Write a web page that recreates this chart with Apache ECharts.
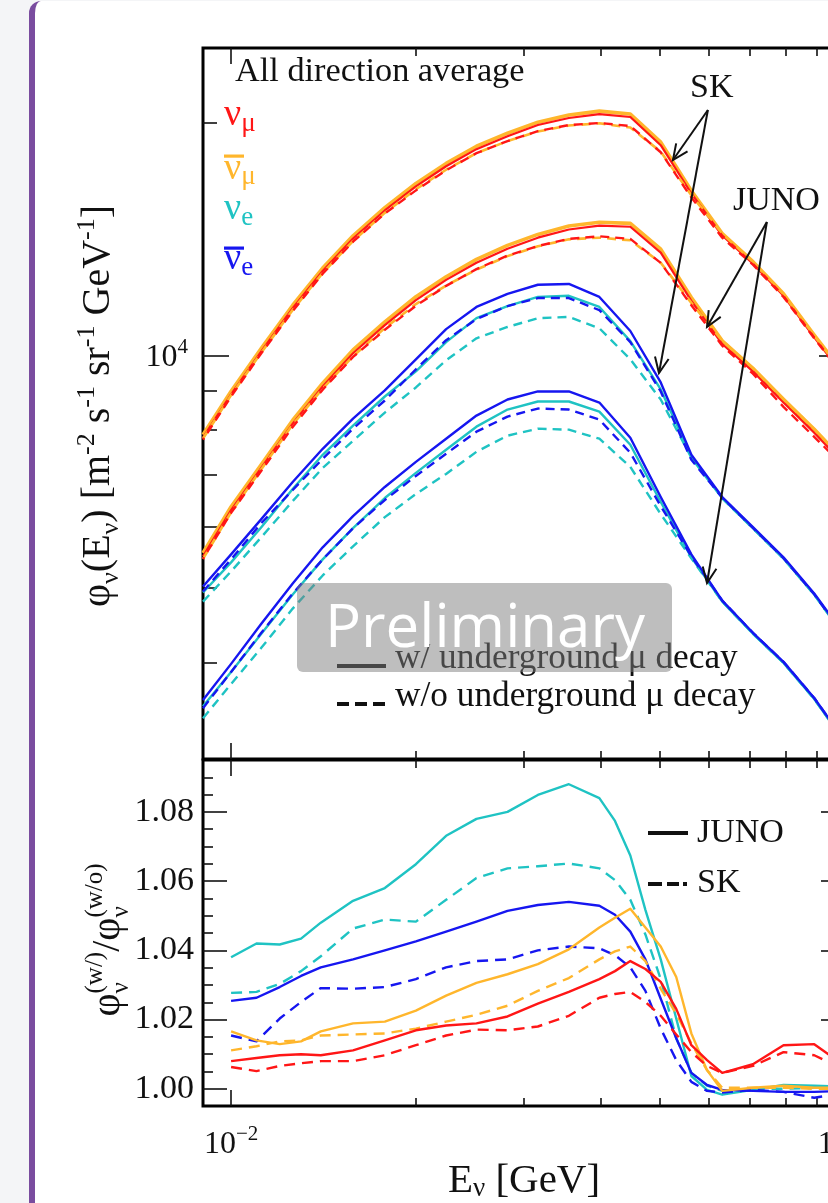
<!DOCTYPE html>
<html>
<head>
<meta charset="utf-8">
<script src="https://cdn.jsdelivr.net/npm/echarts@6/dist/echarts.min.js"></script>
<style>
  html, body { margin: 0; padding: 0; width: 828px; height: 1203px; overflow: hidden; background: #f4f5f7; }
  #card { position: absolute; left: 29px; top: 1px; width: 900px; height: 1300px; background: #fff;
          border-left: 6px solid #7a4c9f; border-top-left-radius: 12px; }
  #chart { position: absolute; left: 0; top: 0; width: 900px; height: 1203px; }
</style>
</head>
<body>
<div id="card"></div>
<div id="chart"></div>
<script>
const SERIF = '"Liberation Serif", "Times New Roman", serif';
const SANS = '"Open Sans", "Noto Sans", sans-serif';

// ---------- flux panel: energy grid [GeV] and fluxes [m^-2 s^-1 sr^-1 GeV^-1] ----------
const fluxEnergy = [0.009, 0.01, 0.0112, 0.0126, 0.0141, 0.0158, 0.0178, 0.02, 0.0224, 0.0251, 0.0282,
                    0.0316, 0.0355, 0.0398, 0.0447, 0.0501, 0.0562, 0.0631, 0.0708, 0.0794, 0.0891, 0.1];

// SK, muon flavour
const skNumuWith       = [7821, 8900, 10120, 11510, 12860, 14160, 15400, 16550, 17570, 18490, 19220, 19870, 20290, 20530, 20350, 18710, 16200, 14290, 13140, 11940, 10550, 9362];
const skNumubarWith    = [7890, 8980, 10210, 11610, 12970, 14280, 15530, 16690, 17720, 18650, 19390, 20040, 20470, 20710, 20530, 18880, 16330, 14380, 13220, 12010, 10620, 9430];
const skNumuWithout    = [7774, 8843, 10060, 11410, 12750, 14030, 15260, 16350, 17360, 18270, 18940, 19510, 19870, 19990, 19810, 18320, 16010, 14200, 13100, 11900, 10520, 9334];
const skNumubarWithout = [7800, 8880, 10080, 11450, 12780, 14060, 15290, 16410, 17390, 18270, 18940, 19490, 19840, 19970, 19720, 18350, 16120, 14370, 13210, 12000, 10600, 9410];
// JUNO, muon flavour
const junoNumuWith       = [5490, 6302, 7148, 8156, 9113, 10060, 10940, 11790, 12520, 13180, 13740, 14200, 14550, 14720, 14670, 13580, 11760, 10340, 9531, 8686, 7939, 7212];
const junoNumubarWith    = [5545, 6365, 7220, 8240, 9200, 10160, 11050, 11910, 12640, 13310, 13880, 14340, 14700, 14870, 14820, 13720, 11880, 10440, 9620, 8770, 8020, 7280];
const junoNumuWithout    = [5450, 6250, 7085, 8075, 9025, 9950, 10790, 11590, 12300, 12930, 13460, 13850, 14150, 14260, 14150, 13170, 11610, 10290, 9465, 8575, 7840, 7160];
const junoNumubarWithout = [5450, 6260, 7120, 8135, 9055, 9970, 10845, 11650, 12310, 12910, 13440, 13840, 14130, 14200, 14090, 13180, 11690, 10440, 9620, 8770, 8020, 7280];
// SK, electron flavour
const skNuebarWith    = [5018, 5523, 6134, 6853, 7566, 8279, 9004, 9881, 10810, 11550, 12010, 12340, 12370, 11900, 10750, 9222, 7432, 6552, 5989, 5474, 4914, 4332];
const skNueWith       = [4929, 5392, 5989, 6712, 7432, 8107, 8843, 9532, 10400, 11170, 11580, 11900, 11940, 11550, 10430, 9031, 7388, 6533, 5971, 5457, 4899, 4319];
const skNuebarWithout = [4944, 5441, 6061, 6692, 7343, 8034, 8738, 9589, 10460, 11140, 11580, 11860, 11860, 11440, 10400, 8977, 7321, 6540, 5975, 5460, 4902, 4322];
const skNueWithout    = [4797, 5249, 5812, 6474, 7148, 7750, 8429, 9085, 9851, 10520, 10880, 11170, 11210, 10840, 9881, 8764, 7365, 6528, 5965, 5452, 4895, 4316];
// JUNO, electron flavour
const junoNuebarWith    = [3576, 3984, 4491, 5063, 5640, 6190, 6752, 7277, 7797, 8354, 8764, 8977, 8977, 8686, 7821, 6552, 5523, 4812, 4371, 4008, 3598, 3162];
const junoNueWith       = [3512, 3889, 4358, 4899, 5441, 5971, 6533, 7042, 7544, 8082, 8505, 8712, 8712, 8454, 7658, 6455, 5474, 4797, 4358, 3996, 3587, 3153];
const junoNuebarWithout = [3491, 3889, 4371, 4914, 5441, 5971, 6494, 6978, 7454, 7962, 8329, 8531, 8505, 8254, 7477, 6378, 5490, 4812, 4371, 4008, 3598, 3162];
const junoNueWithout    = [3388, 3752, 4179, 4698, 5186, 5657, 6171, 6612, 7020, 7499, 7868, 8034, 8010, 7797, 7169, 6227, 5457, 4797, 4358, 3996, 3587, 3153];

// ---------- ratio panel: flux with / without underground muon decay ----------
const ratioEnergy = [0.01, 0.011, 0.012, 0.013, 0.014, 0.0158, 0.0178, 0.02, 0.0224, 0.0251, 0.0282, 0.0316, 0.0355,
                     0.0398, 0.0422, 0.0447, 0.0473, 0.0501, 0.0531, 0.0562, 0.0596, 0.0631, 0.0708, 0.0794, 0.0891, 0.1];
const ratioJunoNue    = [1.038, 1.042, 1.0417, 1.0434, 1.048, 1.0543, 1.058, 1.0649, 1.0731, 1.078, 1.080, 1.0849, 1.088, 1.084, 1.0774, 1.0674, 1.0517, 1.0374, 1.0203, 1.0037, 0.9997, 0.9983, 0.9997, 1.0011, 1.0009, 1.0006];
const ratioSkNue      = [1.0277, 1.028, 1.0303, 1.034, 1.0383, 1.0463, 1.0489, 1.0483, 1.0546, 1.0609, 1.0637, 1.0643, 1.0651, 1.0637, 1.0603, 1.0546, 1.0446, 1.0317, 1.0146, 1.0046, 1.0009, 0.9994, 1.0, 1.0, 1.0003, 1.0003];
const ratioJunoNuebar = [1.0254, 1.0263, 1.0294, 1.0326, 1.0351, 1.0374, 1.04, 1.0426, 1.0454, 1.0483, 1.0514, 1.0531, 1.054, 1.0529, 1.0503, 1.0454, 1.0374, 1.026, 1.0146, 1.0046, 1.0011, 0.9997, 0.9994, 0.9991, 0.9991, 0.9994];
const ratioSkNuebar   = [1.0154, 1.0137, 1.0203, 1.0251, 1.0291, 1.0289, 1.0294, 1.0317, 1.0351, 1.0369, 1.0374, 1.04, 1.0411, 1.0406, 1.0386, 1.0351, 1.0283, 1.0174, 1.0083, 1.002, 0.9994, 0.9989, 0.9997, 0.9991, 0.9974, 0.9989];
const ratioJunoNumubar = [1.0166, 1.014, 1.0129, 1.0137, 1.0166, 1.0189, 1.0194, 1.0226, 1.0269, 1.0306, 1.0331, 1.036, 1.0403, 1.0466, 1.0494, 1.052, 1.0466, 1.0411, 1.0323, 1.016, 1.0054, 0.9994, 1.0003, 1.0009, 1.0003, 1.0003];
const ratioSkNumubar   = [1.0111, 1.0123, 1.0137, 1.014, 1.0154, 1.0157, 1.016, 1.0174, 1.0194, 1.0214, 1.024, 1.0283, 1.032, 1.0374, 1.0397, 1.0411, 1.0369, 1.0289, 1.0217, 1.0131, 1.0054, 1.0003, 1.0003, 1.0003, 1.0, 1.0];
const ratioJunoNumu    = [1.008, 1.0089, 1.0097, 1.01, 1.0097, 1.0111, 1.014, 1.0169, 1.0183, 1.0189, 1.0209, 1.0246, 1.028, 1.0317, 1.034, 1.0369, 1.0346, 1.0309, 1.0231, 1.0126, 1.0083, 1.0046, 1.0071, 1.0126, 1.0129, 1.0066];
const ratioSkNumu      = [1.0063, 1.0051, 1.0066, 1.0074, 1.008, 1.008, 1.0097, 1.0126, 1.0154, 1.0171, 1.0169, 1.018, 1.0211, 1.0263, 1.0274, 1.028, 1.0251, 1.0211, 1.0157, 1.0106, 1.0066, 1.0046, 1.0066, 1.0106, 1.0097, 1.0054];

// ---------- ticks ----------
const energyMajorTicks = [0.01, 0.1];
const energyMinorTicks = [0.02, 0.03, 0.04, 0.05, 0.06, 0.07, 0.08, 0.09];
const fluxMajorTicks = [10000];
const fluxMinorTicks = [4000, 5000, 6000, 7000, 8000, 9000, 20000];
const ratioMajorTicks = [1.00, 1.02, 1.04, 1.06, 1.08];
const ratioMinorTicks = [1.005, 1.01, 1.015, 1.025, 1.03, 1.035, 1.045, 1.05, 1.055, 1.065, 1.07, 1.075, 1.085, 1.09];

// annotation arrows, anchored in (energy, flux)
const skArrowFrom = [0.0598, 20780];
const skArrowTips = [[0.05245, 17900], [0.04977, 9485]];
const junoArrowFrom = [0.0746, 14880];
const junoArrowTips = [[0.0596, 10880], [0.0596, 5071]];

const RED = '#ff1616', ORANGE = '#ffb62c', CYAN = '#1fc3c3', BLUE = '#1616f0';

const pairs = (xs, ys) => xs.map((x, i) => [x, ys[i]]);

function line(name, xs, ys, color, dashed, panel, opts) {
  opts = opts || {};
  return {
    name, type: 'line', silent: true, showSymbol: false, symbol: 'none', smooth: false,
    xAxisIndex: panel === 'flux' ? 0 : 4, yAxisIndex: panel === 'flux' ? 0 : 4,
    data: pairs(xs, ys), z: opts.z || 3,
    lineStyle: {
      color, width: opts.width || 2.4,
      type: dashed ? (panel === 'flux' ? [9, 6] : [11, 7]) : 'solid',
      dashOffset: opts.dashOffset || 0, cap: 'butt', join: 'round'
    },
    itemStyle: { color }
  };
}

const series = [
  // SK muon flavour
  line('SK anti-numu w/', fluxEnergy, skNumubarWith, ORANGE, false, 'flux', { width: 3.6 }),
  line('SK numu w/', fluxEnergy, skNumuWith, RED, false, 'flux', { width: 2.2 }),
  line('SK anti-numu w/o', fluxEnergy, skNumubarWithout, ORANGE, true, 'flux', { width: 2.6 }),
  line('SK numu w/o', fluxEnergy, skNumuWithout, RED, true, 'flux', { width: 2.4, dashOffset: 7 }),
  // JUNO muon flavour
  line('JUNO anti-numu w/', fluxEnergy, junoNumubarWith, ORANGE, false, 'flux', { width: 3.6 }),
  line('JUNO numu w/', fluxEnergy, junoNumuWith, RED, false, 'flux', { width: 2.2 }),
  line('JUNO anti-numu w/o', fluxEnergy, junoNumubarWithout, ORANGE, true, 'flux', { width: 2.6 }),
  line('JUNO numu w/o', fluxEnergy, junoNumuWithout, RED, true, 'flux', { width: 2.4, dashOffset: 7 }),
  // SK electron flavour
  line('SK nue w/o', fluxEnergy, skNueWithout, CYAN, true, 'flux'),
  line('SK nue w/', fluxEnergy, skNueWith, CYAN, false, 'flux'),
  line('SK anti-nue w/', fluxEnergy, skNuebarWith, BLUE, false, 'flux'),
  line('SK anti-nue w/o', fluxEnergy, skNuebarWithout, BLUE, true, 'flux'),
  // JUNO electron flavour
  line('JUNO nue w/o', fluxEnergy, junoNueWithout, CYAN, true, 'flux'),
  line('JUNO nue w/', fluxEnergy, junoNueWith, CYAN, false, 'flux'),
  line('JUNO anti-nue w/', fluxEnergy, junoNuebarWith, BLUE, false, 'flux'),
  line('JUNO anti-nue w/o', fluxEnergy, junoNuebarWithout, BLUE, true, 'flux'),
  // ratios
  line('JUNO nue ratio', ratioEnergy, ratioJunoNue, CYAN, false, 'ratio'),
  line('SK nue ratio', ratioEnergy, ratioSkNue, CYAN, true, 'ratio'),
  line('JUNO anti-nue ratio', ratioEnergy, ratioJunoNuebar, BLUE, false, 'ratio'),
  line('SK anti-nue ratio', ratioEnergy, ratioSkNuebar, BLUE, true, 'ratio'),
  line('JUNO anti-numu ratio', ratioEnergy, ratioJunoNumubar, ORANGE, false, 'ratio'),
  line('SK anti-numu ratio', ratioEnergy, ratioSkNumubar, ORANGE, true, 'ratio'),
  line('JUNO numu ratio', ratioEnergy, ratioJunoNumu, RED, false, 'ratio'),
  line('SK numu ratio', ratioEnergy, ratioSkNumu, RED, true, 'ratio')
];

const tickStyle = { color: '#111', width: 1.6 };
const powRich = {
  b: { fontSize: 32, fontFamily: SERIF, color: '#111', lineHeight: 36, verticalAlign: 'bottom' },
  s: { fontSize: 21, fontFamily: SERIF, color: '#111', lineHeight: 18, verticalAlign: 'top' }
};
const powLabel = v => '{b|10}{s|' + String(Math.round(Math.log10(v))).replace('-', '\u2212') + '}';

function xAx(grid, pos, ticks, len, extra) {
  return Object.assign({
    type: 'log', logBase: 10, gridIndex: grid, position: pos, min: 0.009, max: 0.1,
    axisLine: { show: false, onZero: false }, splitLine: { show: false },
    axisTick: { show: true, inside: true, length: len, customValues: ticks, lineStyle: tickStyle },
    axisLabel: { show: false }
  }, extra || {});
}
function yAx(grid, pos, ticks, len, extra) {
  const base = grid === 0
    ? { type: 'log', logBase: 10, min: 3000, max: 25000 }
    : { type: 'value', min: 0.995, max: 1.095 };
  return Object.assign(base, {
    gridIndex: grid, position: pos,
    axisLine: { show: false, onZero: false }, splitLine: { show: false },
    axisTick: { show: true, inside: true, length: len, customValues: ticks, lineStyle: tickStyle },
    axisLabel: { show: false }
  }, extra || {});
}

const xAxis = [
  xAx(0, 'bottom', energyMajorTicks, 16), xAx(0, 'bottom', energyMinorTicks, 8),
  xAx(0, 'top', energyMajorTicks, 16), xAx(0, 'top', energyMinorTicks, 8),
  xAx(1, 'bottom', energyMajorTicks, 16, {
    axisLabel: { show: true, customValues: energyMajorTicks, margin: 18, formatter: powLabel, rich: powRich },
    name: '{a|E}{sub|\u03bd}{a| [GeV]}', nameLocation: 'middle', nameGap: 43,
    nameTextStyle: { rich: {
      a: { fontSize: 41, fontFamily: SERIF, color: '#111', lineHeight: 47, verticalAlign: 'bottom' },
      sub: { fontSize: 27, fontFamily: SERIF, color: '#111', lineHeight: 21, verticalAlign: 'bottom' }
    } }
  }),
  xAx(1, 'bottom', energyMinorTicks, 8),
  xAx(1, 'top', energyMajorTicks, 16), xAx(1, 'top', energyMinorTicks, 8)
];
const yAxis = [
  yAx(0, 'left', fluxMajorTicks, 26, {
    axisLabel: { show: true, customValues: fluxMajorTicks, margin: 15, formatter: powLabel, rich: powRich }
  }),
  yAx(0, 'left', fluxMinorTicks, 14),
  yAx(0, 'right', fluxMajorTicks, 26), yAx(0, 'right', fluxMinorTicks, 14),
  yAx(1, 'left', ratioMajorTicks, 24, {
    axisLabel: { show: true, customValues: ratioMajorTicks, margin: 9, fontSize: 34, fontFamily: SERIF,
                 color: '#111', formatter: v => v.toFixed(2) }
  }),
  yAx(1, 'left', ratioMinorTicks, 10),
  yAx(1, 'right', ratioMajorTicks, 24), yAx(1, 'right', ratioMinorTicks, 10)
];

const chart = echarts.init(document.getElementById('chart'), null, { renderer: 'canvas' });
chart.setOption({
  animation: false,
  backgroundColor: 'transparent',
  grid: [
    { left: 203, top: 48, width: 642, height: 711, show: true, borderColor: '#000', borderWidth: 3, backgroundColor: 'transparent' },
    { left: 203, top: 760, width: 642, height: 348, show: true, borderColor: '#000', borderWidth: 3, backgroundColor: 'transparent' }
  ],
  xAxis, yAxis, series
});

// ---------- text, legends and annotations ----------
const measureCtx = document.createElement('canvas').getContext('2d');
function textWidth(t, fs, fam) { measureCtx.font = fs + 'px ' + fam; return measureCtx.measureText(t).width; }

// lays out a run of pieces on a common baseline; dy shifts a piece's baseline, hold keeps the pen in place
function run(x, baseline, pieces, color, fam) {
  fam = fam || SERIF;
  const els = [];
  let cx = x, held = 0;
  pieces.forEach(p => {
    const f = p.fam || fam;
    const mid = baseline + (p.dy || 0) - 0.3375 * p.fs;
    els.push({
      type: 'text', x: cx, y: mid, z: 50,
      style: { text: p.t, fill: p.color || color, font: p.fs + 'px ' + f,
               align: 'left', verticalAlign: 'middle', textAlign: 'left', textVerticalAlign: 'middle' }
    });
    const w = textWidth(p.t, p.fs, f);
    if (p.hold) { held = Math.max(held, w); }
    else { cx += Math.max(w, held); held = 0; }
  });
  return { els, width: cx - x };
}

function rotatedTitle(baselineX, centerY, pieces) {
  const r = run(0, 0, pieces, '#111');
  return { type: 'group', x: baselineX, y: centerY + r.width / 2, rotation: Math.PI / 2, children: r.els };
}

const g = [];
const T = (x, b, pieces, color, fam) => run(x, b, pieces, color || '#111', fam).els.forEach(e => g.push(e));

// y-axis titles
g.push(rotatedTitle(112, 406, [
  { t: '\u03c6', fs: 40 }, { t: '\u03bd', fs: 26, dy: 8 }, { t: '(E', fs: 40 }, { t: '\u03bd', fs: 26, dy: 8 },
  { t: ') [m', fs: 40 }, { t: '-2', fs: 26, dy: -16 }, { t: ' s', fs: 40 }, { t: '-1', fs: 26, dy: -16 },
  { t: ' sr', fs: 40 }, { t: '-1', fs: 26, dy: -16 }, { t: ' GeV', fs: 40 }, { t: '-1', fs: 26, dy: -16 },
  { t: ']', fs: 40 }
]));
g.push(rotatedTitle(122, 940, [
  { t: '\u03c6', fs: 40 }, { t: '\u03bd', fs: 25, dy: 8, hold: true }, { t: '(w/)', fs: 25, dy: -18 },
  { t: '/\u03c6', fs: 40 }, { t: '\u03bd', fs: 25, dy: 8, hold: true }, { t: '(w/o)', fs: 25, dy: -18 }
]));

// panel caption and flavour labels
T(235, 84, [{ t: 'All direction average', fs: 34.3 }]);
T(224, 128, [{ t: '\u03bd', fs: 38 }, { t: '\u03bc', fs: 27, dy: 5 }], RED);
T(224, 182, [{ t: '\u03bd', fs: 38 }, { t: '\u03bc', fs: 27, dy: 4 }], ORANGE);
T(224, 222, [{ t: '\u03bd', fs: 38 }, { t: 'e', fs: 27, dy: 5 }], CYAN);
T(224, 272, [{ t: '\u03bd', fs: 38 }, { t: 'e', fs: 27, dy: 5 }], BLUE);
g.push({ type: 'rect', z: 50, shape: { x: 224, y: 154.5, width: 20, height: 3.2 }, style: { fill: ORANGE } });
g.push({ type: 'rect', z: 50, shape: { x: 224, y: 246.5, width: 20, height: 3.2 }, style: { fill: BLUE } });

// detector labels
T(690, 100, [{ t: 'SK', fs: 34 }]);
T(733, 213, [{ t: 'JUNO', fs: 34 }]);

// flux-panel legend
g.push({ type: 'line', z: 50, shape: { x1: 337, y1: 666, x2: 386, y2: 666 }, style: { stroke: '#111', lineWidth: 4 } });
g.push({ type: 'line', z: 50, shape: { x1: 337, y1: 704, x2: 386, y2: 704 }, style: { stroke: '#111', lineWidth: 4, lineDash: [12, 6] } });
T(395, 671, [{ t: 'w/ underground ', fs: 35.3 }, { t: '\u03bc', fs: 35.3 }, { t: ' decay', fs: 35.3 }]);
T(395, 709, [{ t: 'w/o underground ', fs: 35.3 }, { t: '\u03bc', fs: 35.3 }, { t: ' decay', fs: 35.3 }]);

// ratio-panel legend
g.push({ type: 'line', z: 50, shape: { x1: 648, y1: 833, x2: 688, y2: 833 }, style: { stroke: '#111', lineWidth: 4 } });
g.push({ type: 'line', z: 50, shape: { x1: 648, y1: 884, x2: 688, y2: 884 }, style: { stroke: '#111', lineWidth: 4, lineDash: [14, 5, 12, 4, 4, 100] } });
T(697, 845, [{ t: 'JUNO', fs: 34 }]);
T(697, 895, [{ t: 'SK', fs: 34 }]);

// arrows from the detector labels to their curves
function arrow(fromData, toData) {
  const p0 = chart.convertToPixel({ gridIndex: 0 }, fromData);
  const p1 = chart.convertToPixel({ gridIndex: 0 }, toData);
  const ang = Math.atan2(p0[1] - p1[1], p0[0] - p1[0]);
  const len = 17, spread = 0.42;
  const h1 = [p1[0] + len * Math.cos(ang + spread), p1[1] + len * Math.sin(ang + spread)];
  const h2 = [p1[0] + len * Math.cos(ang - spread), p1[1] + len * Math.sin(ang - spread)];
  g.push({ type: 'line', z: 40, shape: { x1: p0[0], y1: p0[1], x2: p1[0], y2: p1[1] }, style: { stroke: '#111', lineWidth: 2 } });
  g.push({ type: 'polyline', z: 40, shape: { points: [h1, p1, h2] }, style: { stroke: '#111', lineWidth: 2, fill: null } });
}
skArrowTips.forEach(t => arrow(skArrowFrom, t));
junoArrowTips.forEach(t => arrow(junoArrowFrom, t));

// "Preliminary" stamp
g.push({ type: 'rect', z: 60, shape: { x: 297, y: 583, width: 375, height: 89, r: 6 }, style: { fill: 'rgba(125,125,125,0.5)' } });
g.push({ type: 'text', z: 61, x: 485, y: 630,
         style: { text: 'Preliminary', fill: '#ffffff', font: '60px ' + SANS,
                  align: 'center', verticalAlign: 'middle', textAlign: 'center', textVerticalAlign: 'middle' } });

chart.setOption({ graphic: { elements: g } });
</script>
</body>
</html>
